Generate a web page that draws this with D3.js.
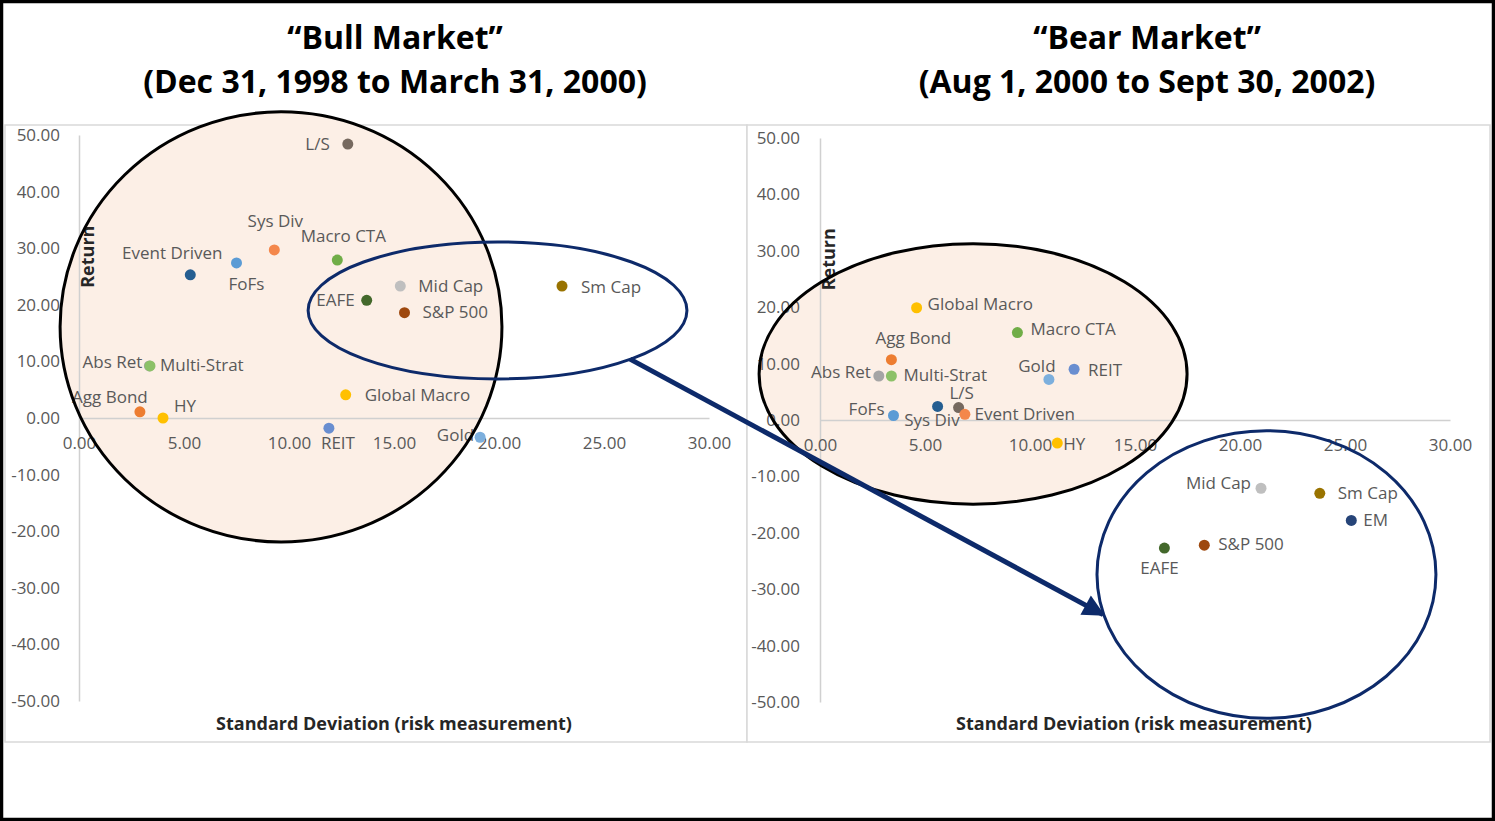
<!DOCTYPE html>
<html>
<head>
<meta charset="utf-8">
<script src="https://cdn.jsdelivr.net/npm/d3@7"></script>
<style>
  body { margin: 0; background: #fff; }
  #vis { width: 1495px; height: 821px; }
  text { font-family: "Open Sans", sans-serif; }
</style>
</head>
<body>
<div id="vis"></div>
<script>
/*
Data
*/

const names   = ["Abs Ret", "L/S", "Sys Div", "Macro CTA", "Event Driven", "FoFs", "EAFE", "Mid Cap", "S&P 500",
                 "Sm Cap", "Multi-Strat", "Agg Bond", "HY", "Global Macro", "REIT", "Gold", "EM"];
// bull market: Dec 31, 1998 to March 31, 2000
const bullStd = [3.35, 12.8, 9.3, 12.3, 5.3, 7.5, 13.7, 15.3, 15.5, 23.0, 3.38, 2.9, 4.0, 12.7, 11.9, 19.1, null];
const bullRet = [9.2, 48.4, 29.7, 27.9, 25.3, 27.4, 20.8, 23.3, 18.6, 23.3, 9.2, 1.1, 0.0, 4.1, -1.8, -3.4, null];
// bear market: Aug 1, 2000 to Sept 30, 2002
const bearStd = [2.8, 6.6, 6.9, 9.4, 5.6, 3.5, 16.4, 21.0, 18.3, 23.8, 3.4, 3.4, 11.3, 4.6, 12.1, 10.9, 25.3];
const bearRet = [7.8, 2.2, 1.0, 15.5, 2.4, 0.8, -22.7, -12.1, -22.2, -13.0, 7.8, 10.7, -4.1, 19.9, 9.0, 7.2, -17.8];

const xTicks = [0, 5, 10, 15, 20, 25, 30];
const yTicks = [-50, -40, -30, -20, -10, 0, 10, 20, 30, 40, 50];

/*
Styles
*/

const colors = {
    "L/S": "#76695f", "Sys Div": "#f4874b", "Macro CTA": "#70ad47", "Event Driven": "#255e91",
    "FoFs": "#5b9bd5", "EAFE": "#43682b", "Mid Cap": "#bfbfbf", "S&P 500": "#9e480e",
    "Sm Cap": "#997300", "Abs Ret": "#a5a5a5", "Multi-Strat": "#8cc168", "Agg Bond": "#ed7d31",
    "HY": "#ffc000", "Global Macro": "#ffc000", "REIT": "#698ed0", "Gold": "#7cafdd", "EM": "#264478"
};

// label placement relative to each dot: [anchor, dx, dy]
const bullLabels = {
    "L/S": ["end", -18, 0], "Sys Div": ["middle", 1, -29], "Macro CTA": ["middle", 6, -24],
    "Event Driven": ["middle", -18, -22], "FoFs": ["middle", 10, 21], "EAFE": ["end", -12, 0],
    "Mid Cap": ["start", 18, 0], "S&P 500": ["start", 18, -1], "Sm Cap": ["start", 19, 1],
    "Abs Ret": ["end", -7, -4], "Multi-Strat": ["start", 10, -1], "Agg Bond": ["middle", -30, -15],
    "HY": ["start", 11, -12], "Global Macro": ["start", 19, 0], "REIT": ["start", -8, 15],
    "Gold": ["end", -6, -2]
};
const bearLabels = {
    "Global Macro": ["start", 11, -4], "Macro CTA": ["start", 13, -4], "Agg Bond": ["middle", 22, -22],
    "Abs Ret": ["end", -8, -4], "Multi-Strat": ["start", 12, -1], "Gold": ["middle", -12, -13],
    "REIT": ["start", 14, 1], "L/S": ["middle", 3, -15], "Event Driven": ["start", 37, 8],
    "Sys Div": ["middle", -33, 6], "FoFs": ["end", -9, -6], "HY": ["start", 6, 1],
    "Mid Cap": ["end", -10, -5], "Sm Cap": ["start", 18, 0], "EM": ["start", 12, 0],
    "S&P 500": ["start", 14, -1], "EAFE": ["middle", -5, 20]
};

const WIDTH = 1495;
const HEIGHT = 821;
const peach = "#fcefe6";
const navy = "#0d2a6a";

// Excel style tick labels: plain hyphen for negatives
const fmt = d => d3.format(".2f")(d).replace("\u2212", "-");

const svg = d3.select("#vis")
                .append("svg")
                .attr("width", WIDTH)
                .attr("height", HEIGHT);

svg.append("defs").append("marker")
    .attr("id", "head")
    .attr("markerUnits", "userSpaceOnUse")
    .attr("viewBox", "0 0 10 10")
    .attr("refX", 9).attr("refY", 5)
    .attr("markerWidth", 24).attr("markerHeight", 22)
    .attr("orient", "auto")
    .append("path")
    .attr("d", "M0,0 L10,5 L0,10 Z")
    .attr("fill", navy);

// one panel per market period
function makePanel(opts) {
    const x = d3.scaleLinear().domain([0, 30]).range(opts.xRange);
    const y = d3.scaleLinear().domain([-50, 50]).range(opts.yRange);
    const g = svg.append("g");

    g.append("rect")
        .attr("x", opts.box[0]).attr("y", opts.box[1])
        .attr("width", opts.box[2]).attr("height", opts.box[3])
        .attr("fill", "#fff").attr("stroke", "#d9d9d9").attr("stroke-width", 1.5);

    // highlight ellipse fill, behind everything
    g.append("ellipse")
        .attr("cx", x(opts.hl[0])).attr("cy", y(opts.hl[1]))
        .attr("rx", x(opts.hl[2]) - x(0)).attr("ry", y(0) - y(opts.hl[3]))
        .attr("fill", peach);

    const yAxis = g.append("g")
        .attr("transform", `translate(${x(0)},0)`)
        .call(d3.axisLeft(y).tickValues(yTicks).tickFormat(fmt)
                .tickSize(0).tickPadding(opts.yPad));
    const xAxis = g.append("g")
        .attr("transform", `translate(0,${y(0)})`)
        .call(d3.axisBottom(x).tickValues(xTicks).tickFormat(fmt)
                .tickSize(0).tickPadding(19));
    [xAxis, yAxis].forEach(a => {
        a.select(".domain").attr("stroke", "#d0d0d0").attr("stroke-width", 1.5);
        a.selectAll("text").attr("fill", "#595959").style("font-size", "17px")
            .style("font-family", "'Open Sans', sans-serif");
    });

    g.append("text")
        .attr("x", opts.titleX).attr("y", 49)
        .attr("text-anchor", "middle")
        .style("font-size", "32px").style("font-weight", "bold")
        .text(opts.title1);
    g.append("text")
        .attr("x", opts.titleX).attr("y", 93)
        .attr("text-anchor", "middle")
        .style("font-size", "32px").style("font-weight", "bold")
        .text(opts.title2);

    g.append("text")
        .attr("x", opts.xTitleX).attr("y", 730)
        .attr("text-anchor", "middle")
        .attr("fill", "#262626")
        .style("font-size", "18px").style("font-weight", "bold")
        .text("Standard Deviation (risk measurement)");
    g.append("text")
        .attr("transform", `translate(${x(0) + 15},${y(28.5)}) rotate(-90)`)
        .attr("text-anchor", "middle")
        .attr("fill", "#262626")
        .style("font-size", "18px").style("font-weight", "bold")
        .text("Return");

    const pts = names.map((n, i) => ({name: n, sd: opts.std[i], ret: opts.ret[i]}))
                     .filter(d => d.sd !== null);

    const nodes = g.selectAll("g.pt")
        .data(pts)
        .enter()
        .append("g")
        .attr("class", "pt")
        .attr("transform", d => `translate(${x(d.sd)},${y(d.ret)})`);

    nodes.append("circle")
        .attr("r", 5.5)
        .attr("fill", d => colors[d.name]);

    nodes.append("text")
        .attr("x", d => opts.labels[d.name][1])
        .attr("y", d => opts.labels[d.name][2])
        .attr("dy", "0.35em")
        .attr("text-anchor", d => opts.labels[d.name][0])
        .attr("fill", "#595959")
        .style("font-size", "17px")
        .text(d => d.name);

    return {x, y, g};
}

const bull = makePanel({
    box: [5, 125, 742, 617], xRange: [79, 709], yRange: [701, 135], yPad: 19,
    std: bullStd, ret: bullRet, labels: bullLabels,
    hl: [9.62, 16.1, 10.52, 38.0],
    titleX: 395, xTitleX: 394,
    title1: "\u201CBull Market\u201D", title2: "(Dec 31, 1998 to March 31, 2000)"
});

const bear = makePanel({
    box: [747, 125, 743, 617], xRange: [820, 1450], yRange: [702, 138], yPad: 20,
    std: bearStd, ret: bearRet, labels: bearLabels,
    hl: [7.29, 8.17, 10.19, 23.1],
    titleX: 1147, xTitleX: 1134,
    title1: "\u201CBear Market\u201D", title2: "(Aug 1, 2000 to Sept 30, 2002)"
});

/*
Annotations (outlines on top)
*/

const ann = svg.append("g");

function outline(p, cx, cy, rx, ry, color) {
    ann.append("ellipse")
        .attr("cx", p.x(cx)).attr("cy", p.y(cy))
        .attr("rx", p.x(rx) - p.x(0)).attr("ry", p.y(0) - p.y(ry))
        .attr("fill", "none").attr("stroke", color).attr("stroke-width", 3);
}

outline(bull, 9.62, 16.1, 10.52, 38.0, "#000");
outline(bull, 19.93, 19.0, 9.02, 12.1, navy);
outline(bear, 7.29, 8.17, 10.19, 23.1, "#000");
outline(bear, 21.26, -27.4, 8.07, 25.5, navy);

ann.append("line")
    .attr("x1", bull.x(26.24)).attr("y1", bull.y(10.4))
    .attr("x2", bear.x(13.48)).attr("y2", bear.y(-34.5))
    .attr("stroke", navy).attr("stroke-width", 5)
    .attr("marker-end", "url(#head)");

// outer frame
svg.append("rect")
    .attr("x", 1.5).attr("y", 1.5)
    .attr("width", WIDTH - 3).attr("height", HEIGHT - 3)
    .attr("fill", "none").attr("stroke", "#000").attr("stroke-width", 3.5);
</script>
</body>
</html>
